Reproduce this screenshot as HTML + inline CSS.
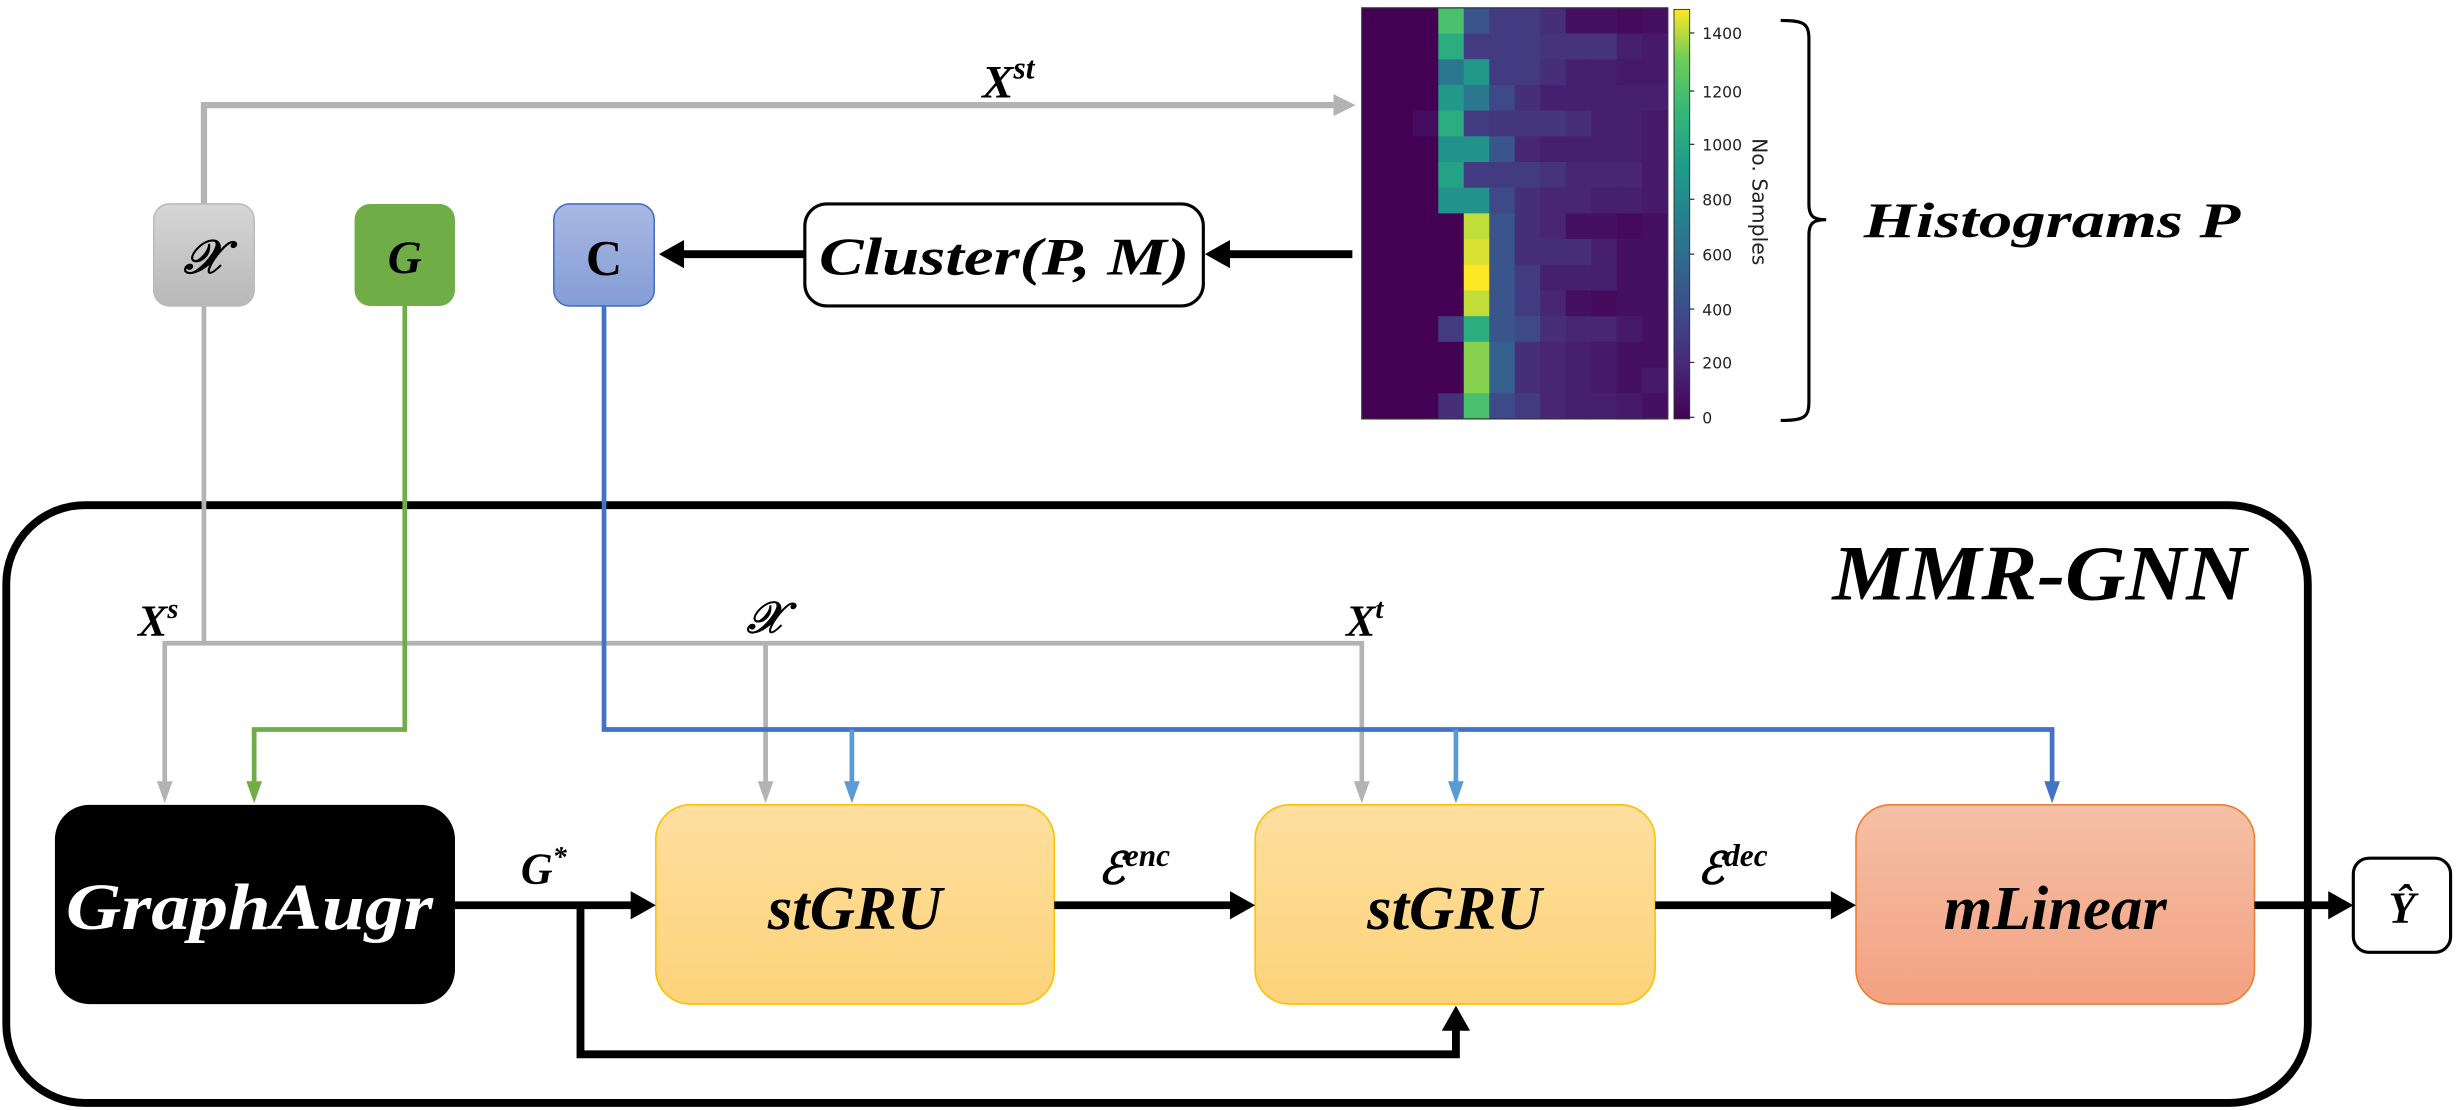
<!DOCTYPE html>
<html><head><meta charset="utf-8"><style>
html,body{margin:0;padding:0;background:#fff;}
svg{display:block;}
text{font-family:"Liberation Serif","DejaVu Serif",serif;font-style:italic;font-weight:bold;}
.s{font-family:"DejaVu Sans","Liberation Sans",sans-serif;font-style:normal;font-weight:normal;}
</style></head><body>
<svg id="sv" width="2460" height="1110" viewBox="0 0 1568 707.5" xmlns="http://www.w3.org/2000/svg">
<defs>
<linearGradient id="gx" x1="0" y1="0" x2="0" y2="1"><stop offset="0" stop-color="#d6d6d6"/><stop offset="1" stop-color="#b8b8b8"/></linearGradient>
<linearGradient id="gc" x1="0" y1="0" x2="0" y2="1"><stop offset="0" stop-color="#a9b8e2"/><stop offset="1" stop-color="#849dd6"/></linearGradient>
<linearGradient id="gy" x1="0" y1="0" x2="0" y2="1"><stop offset="0" stop-color="#fedf9f"/><stop offset="1" stop-color="#fdd37a"/></linearGradient>
<linearGradient id="gr" x1="0" y1="0" x2="0" y2="1"><stop offset="0" stop-color="#f5c0a6"/><stop offset="1" stop-color="#f3a181"/></linearGradient>
<linearGradient id="cb" x1="0" y1="1" x2="0" y2="0">
<stop offset="0" stop-color="#440154"/><stop offset="0.13" stop-color="#482878"/><stop offset="0.25" stop-color="#3e4989"/><stop offset="0.38" stop-color="#31688e"/><stop offset="0.5" stop-color="#26828e"/><stop offset="0.63" stop-color="#1f9e89"/><stop offset="0.75" stop-color="#35b779"/><stop offset="0.88" stop-color="#6ece58"/><stop offset="1" stop-color="#fde725"/></linearGradient>
</defs>

<polyline points="130,130 130,67 852,67" fill="none" stroke="#b3b3b3" stroke-width="4"/>
<polygon points="850,60 864,67 850,74" fill="#b3b3b3"/>
<text x="626" y="62" font-size="30">X<tspan font-size="20" dy="-12">st</tspan></text>

<rect x="98" y="130" width="64" height="65" rx="10" fill="url(#gx)" stroke="#bbb"/>
<text x="130" y="174" font-size="30" text-anchor="middle">𝒳</text>
<rect x="226" y="130" width="64" height="65" rx="10" fill="#70ad47"/>
<text x="258" y="174" font-size="30" text-anchor="middle">G</text>
<rect x="353" y="130" width="64" height="65" rx="10" fill="url(#gc)" stroke="#4472c4"/>
<text x="385" y="175" font-size="32" text-anchor="middle" style="font-style:normal">C</text>
<rect x="513" y="130" width="254" height="65" rx="14" fill="#fff" stroke="#000" stroke-width="2"/>
<text x="522" y="175" font-size="34" textLength="236" lengthAdjust="spacingAndGlyphs">Cluster(P, M)</text>
<line x1="862" y1="162" x2="782" y2="162" stroke="#000" stroke-width="5"/>
<polygon points="784,153 768,162 784,171" fill="#000"/>
<line x1="513" y1="162" x2="434" y2="162" stroke="#000" stroke-width="5"/>
<polygon points="436,153 420,162 436,171" fill="#000"/>

<g id="hm"></g>
<rect x="868" y="5" width="195" height="262" fill="none" stroke="#333" stroke-width="0.8"/>
<rect x="1067" y="6" width="10" height="261" fill="url(#cb)" stroke="#333" stroke-width="0.6"/>
<g class="s" font-size="10" fill="#222">
<text class="s" x="1085" y="25">1400</text><text class="s" x="1085" y="62">1200</text><text class="s" x="1085" y="96">1000</text>
<text class="s" x="1085" y="131">800</text><text class="s" x="1085" y="166">600</text><text class="s" x="1085" y="201">400</text>
<text class="s" x="1085" y="235">200</text><text class="s" x="1085" y="270">0</text>
</g>
<g stroke="#333" stroke-width="0.8">
<line x1="1077" y1="21" x2="1080" y2="21"/><line x1="1077" y1="58" x2="1080" y2="58"/><line x1="1077" y1="92" x2="1080" y2="92"/><line x1="1077" y1="127" x2="1080" y2="127"/><line x1="1077" y1="162" x2="1080" y2="162"/><line x1="1077" y1="197" x2="1080" y2="197"/><line x1="1077" y1="231" x2="1080" y2="231"/><line x1="1077" y1="266" x2="1080" y2="266"/>
</g>
<text class="s" x="0" y="0" font-size="13" fill="#222" transform="translate(1117,88) rotate(90)">No. Samples</text>
<path d="M1135,13 C1150,13 1153,15 1153,25 L1153,130 C1153,138 1156,140 1164,140 C1156,140 1153,142 1153,150 L1153,256 C1153,266 1150,268 1135,268" fill="none" stroke="#000" stroke-width="2"/>
<text x="1188" y="151" font-size="32" textLength="240" lengthAdjust="spacingAndGlyphs">Histograms P</text>

<rect x="4" y="322" width="1467" height="381" rx="50" fill="none" stroke="#000" stroke-width="5"/>
<text x="1168" y="382" font-size="50" textLength="264" lengthAdjust="spacingAndGlyphs">MMR-GNN</text>

<line x1="130" y1="195" x2="130" y2="410" stroke="#b3b3b3" stroke-width="3"/>
<polyline points="105,500 105,410 868,410 868,500" fill="none" stroke="#b3b3b3" stroke-width="3"/>
<line x1="488" y1="410" x2="488" y2="500" stroke="#b3b3b3" stroke-width="3"/>
<polygon points="100,498 105,512 110,498" fill="#b3b3b3"/>
<polygon points="483,498 488,512 493,498" fill="#b3b3b3"/>
<polygon points="863,498 868,512 873,498" fill="#b3b3b3"/>
<text x="88" y="405" font-size="28">X<tspan font-size="18" dy="-11">s</tspan></text>
<text x="488" y="403" font-size="28" text-anchor="middle">𝒳</text>
<text x="858" y="405" font-size="28">X<tspan font-size="18" dy="-11">t</tspan></text>

<polyline points="258,195 258,465 162,465 162,500" fill="none" stroke="#70ad47" stroke-width="3"/>
<polygon points="157,498 162,512 167,498" fill="#70ad47"/>
<polyline points="385,195 385,465 1308,465 1308,500" fill="none" stroke="#4472c4" stroke-width="3"/>
<line x1="543" y1="465" x2="543" y2="500" stroke="#5b9bd5" stroke-width="3"/>
<line x1="928" y1="465" x2="928" y2="500" stroke="#5b9bd5" stroke-width="3"/>
<polygon points="538,498 543,512 548,498" fill="#5b9bd5"/>
<polygon points="923,498 928,512 933,498" fill="#5b9bd5"/>
<polygon points="1303,498 1308,512 1313,498" fill="#4472c4"/>

<rect x="35" y="513" width="255" height="127" rx="22" fill="#000"/>
<text x="42" y="592" font-size="42" fill="#fff" textLength="234" lengthAdjust="spacingAndGlyphs">GraphAugr</text>
<rect x="418" y="513" width="254" height="127" rx="22" fill="url(#gy)" stroke="#ffc000" stroke-width="1"/>
<text x="545" y="592" font-size="40" text-anchor="middle">stGRU</text>
<rect x="800" y="513" width="255" height="127" rx="22" fill="url(#gy)" stroke="#ffc000" stroke-width="1"/>
<text x="927" y="592" font-size="40" text-anchor="middle">stGRU</text>
<rect x="1183" y="513" width="254" height="127" rx="22" fill="url(#gr)" stroke="#ed7d31" stroke-width="1"/>
<text x="1310" y="592" font-size="40" text-anchor="middle">mLinear</text>
<rect x="1500" y="547" width="62" height="60" rx="10" fill="#fff" stroke="#000" stroke-width="2"/>
<text x="1531" y="588" font-size="28" text-anchor="middle">Ŷ</text>

<g stroke="#000" stroke-width="5" fill="none">
<line x1="290" y1="577" x2="404" y2="577"/>
<line x1="672" y1="577" x2="786" y2="577"/>
<line x1="1055" y1="577" x2="1169" y2="577"/>
<line x1="1437" y1="577" x2="1486" y2="577"/>
<polyline points="370,577 370,672 928,672 928,655"/>
</g>
<g fill="#000">
<polygon points="402,568 418,577 402,586"/>
<polygon points="784,568 800,577 784,586"/>
<polygon points="1167,568 1183,577 1167,586"/>
<polygon points="1484,568 1500,577 1484,586"/>
<polygon points="919,657 928,641 937,657"/>
</g>
<text x="332" y="563" font-size="28">G<tspan font-size="18" dy="-11">*</tspan></text>
<text x="700" y="563" font-size="28">ℰ<tspan font-size="20" dy="-11">enc</tspan></text>
<text x="1082" y="563" font-size="28">ℰ<tspan font-size="20" dy="-11">dec</tspan></text>
</svg>
<script>
var V=[[0,0,0,.8,.3,.2,.2,.15,.05,.05,.03,.05],[0,0,0,.7,.2,.2,.2,.17,.17,.17,.1,.08],[0,0,0,.45,.6,.2,.2,.15,.1,.1,.08,.08],[0,0,0,.6,.45,.25,.15,.1,.1,.1,.1,.1],[0,0,.04,.7,.2,.18,.18,.18,.15,.1,.1,.08],[0,0,0,.58,.58,.3,.12,.1,.1,.1,.1,.08],[0,0,0,.65,.2,.2,.2,.17,.12,.12,.12,.08],[0,0,0,.58,.58,.25,.15,.12,.12,.1,.1,.08],[0,0,0,0,.95,.3,.15,.12,.05,.05,.03,.05],[0,0,0,0,.97,.3,.15,.15,.15,.1,.05,.05],[0,0,0,0,1,.3,.2,.1,.1,.1,.05,.05],[0,0,0,0,.95,.3,.2,.12,.05,.03,.05,.05],[0,0,0,.2,.7,.3,.25,.15,.12,.12,.08,.05],[0,0,0,0,.9,.35,.15,.12,.1,.08,.05,.05],[0,0,0,0,.9,.35,.15,.12,.1,.08,.05,.08],[0,0,0,.15,.8,.25,.2,.12,.1,.1,.08,.05]];
var S=[[0,68,1,84],[.13,72,40,120],[.25,62,73,137],[.38,49,104,142],[.5,38,130,142],[.63,31,158,137],[.75,53,183,121],[.88,110,206,88],[1,253,231,37]];
function c(v){for(var i=1;i<S.length;i++){if(v<=S[i][0]){var a=S[i-1],b=S[i],t=(v-a[0])/(b[0]-a[0]);return 'rgb('+[1,2,3].map(function(k){return Math.round(a[k]+(b[k]-a[k])*t)}).join(',')+')';}}return 'rgb(253,231,37)';}
var g=document.getElementById('hm'),h='',w=195/12,hh=262/16;
for(var r=0;r<16;r++)for(var k=0;k<12;k++)h+='<rect x="'+(868+k*w)+'" y="'+(5+r*hh)+'" width="'+(w+0.3)+'" height="'+(hh+0.3)+'" fill="'+c(V[r][k])+'"/>';
g.innerHTML=h;
</script>
</body></html>
